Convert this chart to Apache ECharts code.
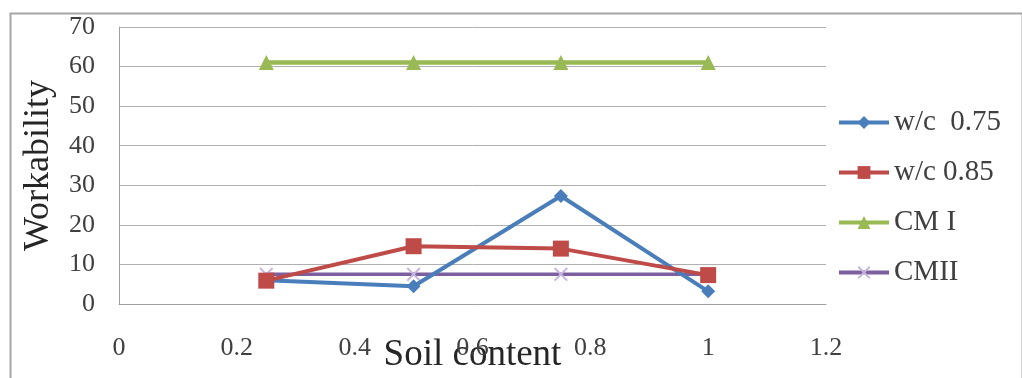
<!DOCTYPE html>
<html>
<head>
<meta charset="utf-8">
<script src="https://cdn.jsdelivr.net/npm/echarts@6/dist/echarts.min.js"></script>
<style>html,body{margin:0;padding:0;background:#fff}#c{width:1022px;height:378px}</style>
</head>
<body>
<div id="c"></div>
<script>
var soilContent = [0.25, 0.5, 0.75, 1];
var wc075 = [6, 4.5, 27.3, 3.2];
var wc085 = [5.9, 14.6, 14, 7.3];
var cm1 = [61, 61, 61, 61];
var cm2 = [7.5, 7.5, 7.5, 7.5];
var seriesNames = ['w/c  0.75', 'w/c 0.85', 'CM I', 'CMII'];

function pts(ys){ return soilContent.map(function(x,i){ return [x, ys[i]]; }); }
var crossPath = 'path://M0,1 L1,0 L5,4 L9,0 L10,1 L6,5 L10,9 L9,10 L5,6 L1,10 L0,9 L4,5 Z';
var font = '"Liberation Serif", "Times New Roman", serif';

var chart = echarts.init(document.getElementById('c'));
chart.setOption({
  animation: false,
  graphic: [{
    type: 'rect', left: 8, top: 11, z: -1,
    shape: { width: 1012, height: 380 },
    style: { fill: 'none', stroke: '#a6a6a6', lineWidth: 2 }
  }],
  grid: { left: 119, right: 196, top: 27, bottom: 74, outerBoundsMode: 'none', containLabel: false },
  legend: {
    orient: 'vertical', left: 832, top: 103, itemGap: 21, itemWidth: 50, itemHeight: 16,
    textStyle: { fontFamily: font, fontSize: 29, color: '#404040' },
    lineStyle: { width: 4 },
    data: seriesNames
  },
  xAxis: {
    type: 'value', min: 0, max: 1.2, interval: 0.2,
    name: 'Soil content', nameLocation: 'middle', nameGap: 33, nameMoveOverlap: false,
    nameTextStyle: { fontFamily: font, fontSize: 37, color: '#262626' },
    axisLine: { show: true, lineStyle: { color: '#a0a0a0', width: 1 } },
    axisTick: { show: false },
    splitLine: { show: false },
    axisLabel: { margin: 31, fontFamily: font, fontSize: 26, color: '#404040',
      formatter: function(v){ return String(Math.round(v*10)/10); } }
  },
  yAxis: {
    type: 'value', min: 0, max: 70, interval: 10,
    name: 'Workability', nameLocation: 'middle', nameGap: 62, nameRotate: 90, nameMoveOverlap: false,
    nameTextStyle: { fontFamily: font, fontSize: 36, color: '#262626' },
    axisLine: { show: true, lineStyle: { color: '#a0a0a0', width: 1 } },
    axisTick: { show: false },
    splitLine: { show: true, lineStyle: { color: '#b0b0b0', width: 1 } },
    axisLabel: { margin: 24, fontFamily: font, fontSize: 26, color: '#404040' }
  },
  series: [
    { name: seriesNames[3], type: 'line', data: pts(cm2), symbol: crossPath, symbolSize: 14,
      lineStyle: { color: '#7d5fa0', width: 3.5 }, itemStyle: { color: '#c5b5e0' }, z: 2 },
    { name: seriesNames[0], type: 'line', data: pts(wc075), symbol: 'diamond', symbolSize: 14,
      lineStyle: { color: '#4a7ebb', width: 4 }, itemStyle: { color: '#4a7ebb' }, z: 3 },
    { name: seriesNames[1], type: 'line', data: pts(wc085), symbol: 'rect', symbolSize: 16,
      lineStyle: { color: '#be4b48', width: 4 }, itemStyle: { color: '#be4b48' }, z: 4 },
    { name: seriesNames[2], type: 'line', data: pts(cm1), symbol: 'triangle', symbolSize: 15,
      lineStyle: { color: '#98b954', width: 4.5 }, itemStyle: { color: '#98b954' }, z: 5 }
  ]
});
</script>
</body>
</html>
